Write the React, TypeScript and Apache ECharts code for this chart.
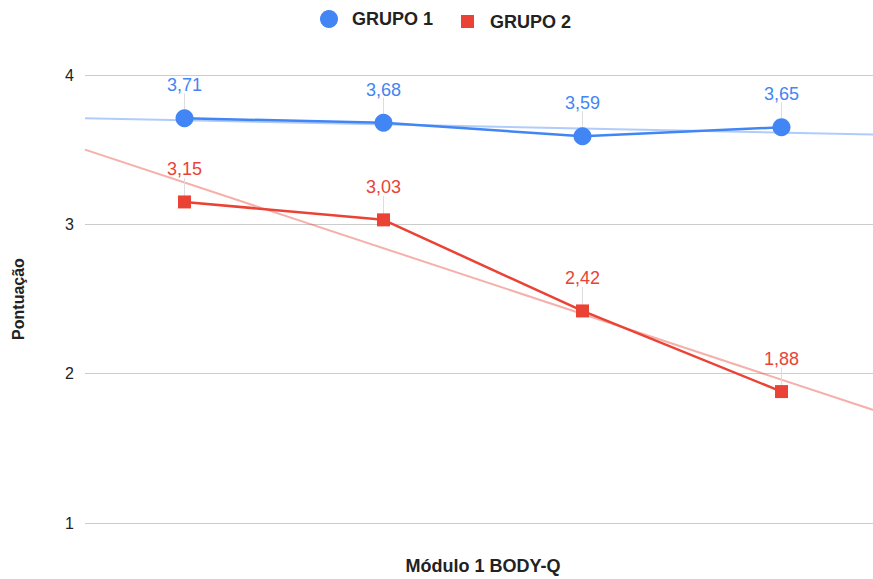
import React, { useEffect, useRef } from "react";
import * as echarts from "echarts";

const positions = [1, 2, 3, 4];
const grupo1 = [3.71, 3.68, 3.59, 3.65];
const grupo2 = [3.15, 3.03, 2.42, 1.88];
// trendline endpoints (at the left and right plot edges)
const trendX = [0.5, 4.5];
const trend1 = [3.71, 3.6];
const trend2 = [3.5, 1.74];
const yTicks = [1, 2, 3, 4];

const BLUE = "#4285f4";
const RED = "#ea4335";
const FONT = "Liberation Sans, Arial, sans-serif";

const fmt = (v: number) => v.toFixed(2).replace(".", ",");

export default function App() {
  const ref = useRef<HTMLDivElement>(null);
  useEffect(() => {
    document.body.style.margin = "0";
    const chart = echarts.init(ref.current!, null, { renderer: "svg" });
    const pts = (ys: number[]) => positions.map((x, i) => [x, ys[i]]);
    const leader = (name: string, ys: number[], from: number, to: number) => ({
      name,
      type: "custom",
      silent: true,
      z: 2,
      data: pts(ys),
      renderItem: (_params: any, api: any) => {
        const p = api.coord([api.value(0), api.value(1)]);
        return {
          type: "line",
          shape: { x1: p[0], y1: p[1] - from, x2: p[0], y2: p[1] - to },
          style: { stroke: "#dddddd", lineWidth: 1 },
        };
      },
    });
    chart.setOption({
      animation: false,
      backgroundColor: "#ffffff",
      textStyle: { fontFamily: FONT },
      legend: [
        {
          data: [{ name: "GRUPO 1", icon: "circle" }],
          left: 320,
          top: 10,
          itemWidth: 18,
          itemHeight: 18,
          itemGap: 0,
          padding: 0,
          textStyle: { fontSize: 18, fontWeight: "bold", color: "#222", fontFamily: FONT, padding: [0, 0, 0, 9] },
        },
        {
          data: [{ name: "GRUPO 2", icon: "rect" }],
          left: 461,
          top: 12.5,
          itemWidth: 13,
          itemHeight: 13,
          itemGap: 0,
          padding: 0,
          textStyle: { fontSize: 18, fontWeight: "bold", color: "#222", fontFamily: FONT, padding: [0, 0, 0, 11] },
        },
      ],
      grid: { left: 85, top: 75, width: 796, height: 448, containLabel: false, outerBoundsMode: "none" },
      xAxis: {
        type: "value",
        min: trendX[0],
        max: trendX[1],
        axisLabel: { show: false },
        axisTick: { show: false },
        axisLine: { show: false },
        splitLine: { show: false },
        name: "Módulo 1 BODY-Q",
        nameLocation: "middle",
        nameGap: 34,
        nameTextStyle: { fontSize: 18, fontWeight: "bold", color: "#222", fontFamily: FONT },
      },
      yAxis: {
        type: "value",
        min: yTicks[0],
        max: yTicks[yTicks.length - 1],
        interval: 1,
        axisLabel: { fontSize: 16, color: "#222", margin: 11, fontFamily: FONT },
        axisTick: { show: false },
        axisLine: { show: false },
        splitLine: { lineStyle: { color: "#cccccc", width: 1 } },
        name: "Pontuação",
        nameLocation: "middle",
        nameGap: 59,
        nameRotate: 90,
        nameTextStyle: { fontSize: 16, fontWeight: "bold", color: "#222", fontFamily: FONT },
      },
      series: [
        {
          name: "trend1",
          type: "line",
          data: trendX.map((x, i) => [x, trend1[i]]),
          symbol: "none",
          lineStyle: { color: BLUE, width: 2, opacity: 0.42 },
          silent: true,
          z: 1,
        },
        {
          name: "trend2",
          type: "line",
          data: trendX.map((x, i) => [x, trend2[i]]),
          symbol: "none",
          lineStyle: { color: RED, width: 2, opacity: 0.42 },
          silent: true,
          z: 1,
        },
        leader("lead1", grupo1, 9, 25),
        leader("lead2", grupo2, 6, 24),
        {
          name: "GRUPO 1",
          type: "line",
          data: pts(grupo1),
          symbol: "circle",
          symbolSize: 18,
          itemStyle: { color: BLUE },
          lineStyle: { color: BLUE, width: 2.5 },
          z: 3,
          label: {
            show: true,
            position: "top",
            distance: 15,
            fontSize: 18,
            color: BLUE,
            fontFamily: FONT,
            formatter: (p: any) => fmt(p.value[1]),
          },
        },
        {
          name: "GRUPO 2",
          type: "line",
          data: pts(grupo2),
          symbol: "rect",
          symbolSize: 13,
          itemStyle: { color: RED },
          lineStyle: { color: RED, width: 2.5 },
          z: 3,
          label: {
            show: true,
            position: "top",
            distance: 17,
            fontSize: 18,
            color: RED,
            fontFamily: FONT,
            formatter: (p: any) => fmt(p.value[1]),
          },
        },
      ],
    });
    return () => chart.dispose();
  }, []);
  return (
    <div
      ref={ref}
      style={{ position: "absolute", left: 0, top: 0, width: 873, height: 579 }}
    />
  );
}
